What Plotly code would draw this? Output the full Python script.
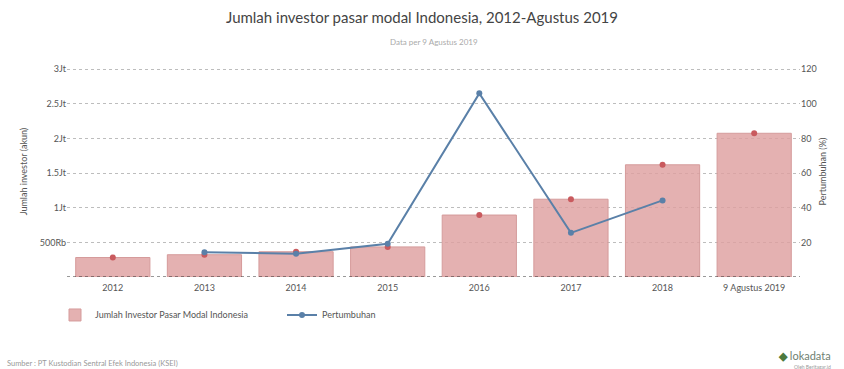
import plotly.graph_objects as go

categories = ["2012", "2013", "2014", "2015", "2016", "2017", "2018", "9 Agustus 2019"]
investors = [281256, 321439, 364465, 434107, 894116, 1122668, 1619372, 2074000]
growth = [None, 14.3, 13.4, 19.2, 106.0, 25.5, 44.2, None]

left_tickvals = [500000, 1000000, 1500000, 2000000, 2500000, 3000000]
left_ticktext = ["500Rb", "1Jt", "1.5Jt", "2Jt", "2.5Jt", "3Jt"]
right_tickvals = [20, 40, 60, 80, 100, 120]

FONT = "Lato, 'Open Sans', sans-serif"
BAR_FILL = "rgba(222,160,160,0.82)"
BAR_LINE = "#d59b9b"
DOT = "#c95a5e"
LINE = "#5a80a8"

fig = go.Figure()
fig.add_trace(go.Bar(
    x=categories, y=investors, name="Jumlah Investor Pasar Modal Indonesia",
    marker=dict(color=BAR_FILL, line=dict(color=BAR_LINE, width=1)),
    yaxis="y", hoverinfo="x+y",
))
fig.add_trace(go.Scatter(
    x=categories, y=investors, mode="markers", showlegend=False,
    marker=dict(color=DOT, size=6), yaxis="y", hoverinfo="skip",
))
fig.add_trace(go.Scatter(
    x=categories, y=growth, name="Pertumbuhan", mode="lines+markers",
    line=dict(color=LINE, width=2), marker=dict(color=LINE, size=6),
    yaxis="y2", connectgaps=False,
))

fig.update_layout(
    width=844, height=369,
    margin=dict(l=67, r=44, t=66, b=92),
    paper_bgcolor="white", plot_bgcolor="white",
    font=dict(family=FONT, size=9, color="#555"),
    bargap=0.19,
    title=dict(
        text="Jumlah investor pasar modal Indonesia, 2012-Agustus 2019",
        x=0.5, xanchor="center", y=1 - 18 / 369, yanchor="middle", yref="container",
        font=dict(family=FONT, size=15, color="#444"),
    ),
    xaxis=dict(
        type="category", showgrid=False, showline=False, ticks="",
        tickfont=dict(size=9, color="#555"), ticklabelstandoff=4,
    ),
    yaxis=dict(
        range=[0, 3045000], tickvals=left_tickvals, ticktext=left_ticktext,
        showgrid=True, gridcolor="#bdbdbd", griddash="3px,3px", gridwidth=1,
        zeroline=False, showline=False, ticks="",
        tickfont=dict(size=9, color="#555"),
        title=dict(text="Jumlah investor (akun)", font=dict(size=9, color="#555"), standoff=10),
    ),
    yaxis2=dict(
        range=[0, 121.8], tickvals=right_tickvals, overlaying="y", side="right",
        showgrid=False, zeroline=False, showline=False, ticks="",
        tickfont=dict(size=9, color="#555"),
        title=dict(text="Pertumbuhan (%)", font=dict(size=9, color="#555"), standoff=4),
    ),
    legend=dict(
        orientation="h", x=-12 / 733, xanchor="left", y=-0.18, yanchor="middle",
        font=dict(size=9, color="#555"), entrywidth=182, entrywidthmode="pixels",
        itemwidth=30,
    ),
    shapes=[dict(
        type="line", xref="paper", yref="y", x0=0, x1=1, y0=0, y1=0,
        line=dict(color="#333", width=1, dash="3px,3px"),
    )],
    annotations=[
        dict(text="Data per 9 Agustus 2019", xref="paper", yref="paper",
             x=0.5, y=1 + 24 / 211, xanchor="center", yanchor="middle",
             showarrow=False, font=dict(size=8, color="#aaa")),
        dict(text="Sumber : PT Kustodian Sentral Efek Indonesia (KSEI)", xref="paper", yref="paper",
             x=-62 / 733, y=-86 / 211, xanchor="left", yanchor="middle",
             showarrow=False, font=dict(size=7.5, color="#999")),
        dict(text="<b style='color:#4d7a3e'>◆</b> lokadata", xref="paper", yref="paper",
             x=1.045, y=-78 / 211, xanchor="right", yanchor="middle",
             showarrow=False, font=dict(size=11, color="#6f7f72")),
        dict(text="Oleh Beritagar.id", xref="paper", yref="paper",
             x=1.045, y=-90 / 211, xanchor="right", yanchor="middle",
             showarrow=False, font=dict(size=5, color="#999")),
    ],
)

fig.write_html("out.html")
